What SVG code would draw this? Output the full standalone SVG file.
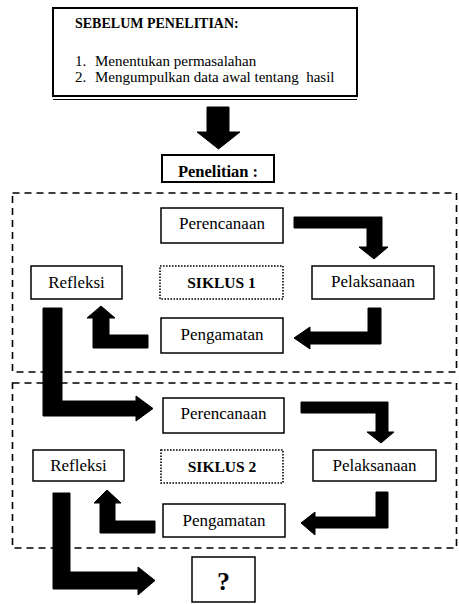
<svg xmlns="http://www.w3.org/2000/svg" width="459" height="604" viewBox="0 0 459 604">
<style>
  text { font-family: "Liberation Serif", "Times New Roman", serif; fill: #000; }
  .lbl { font-size: 17px; text-anchor: middle; }
  .bold { font-weight: bold; }
  .sik { font-size: 15.5px; }
  .pen { font-size: 16.5px; }
  .q { font-size: 26px; }
  .box { fill: #fff; stroke: #000; stroke-width: 1.5; }
  .dot { fill: #fff; stroke: #000; stroke-width: 1.6; stroke-dasharray: 1.6 1.4; }
  .dash { fill: none; stroke: #000; stroke-width: 1.6; stroke-dasharray: 7 5; }
  .arr { fill: #000; stroke: #000; stroke-width: 1; stroke-linejoin: round; }
</style>
<rect width="459" height="604" fill="#fff"/>

<g id="frames">
  <rect class="dash" x="12.5" y="193" width="444" height="179"/>
  <rect class="dash" x="12.5" y="383" width="444" height="165"/>
</g>

<g id="connectors">
  <polygon class="arr" points="207,107 229,107 229,132 240,132 218.5,149 197,132 207,132"/>
  <polygon class="arr" points="294,217 382,217 382,247 388,247 374,259 359,247 367,247 367,228 294,228"/>
  <polygon class="arr" points="368,308 381,308 381,344 310,344 310,349 294,338 310,327 310,332 368,332"/>
  <polygon class="arr" points="148,335 148,348 93,348 93,318 87,318 101,306 115,318 109,318 109,335"/>
  <polygon class="arr" points="43,308 62,308 62,401 136,401 136,396 153,408.5 136,421 136,416 43,416"/>
  <polygon class="arr" points="301,402 388,402 388,432 394,432 381,443 367,432 376,432 376,413 301,413"/>
  <polygon class="arr" points="376,492 388,492 388,528 315,528 315,535 301,523 315,512 315,517 376,517"/>
  <polygon class="arr" points="155,521 155,533 100,533 100,503 94,503 107,490 121,503 115,503 115,521"/>
  <polygon class="arr" points="53,493 70,493 70,572 138,572 138,567 155,580.5 138,595 138,589 53,589"/>
</g>

<g id="sebelum">
  <rect x="53" y="8" width="304" height="88" fill="#fff" stroke="#000" stroke-width="2"/>
  <line x1="53" y1="99.5" x2="357" y2="99.5" stroke="#000" stroke-width="1.2"/>
  <text x="75" y="28" class="bold" font-size="14">SEBELUM PENELITIAN:</text>
  <text x="75" y="66" font-size="15">1.</text>
  <text x="95" y="66" font-size="15">Menentukan permasalahan</text>
  <text x="75" y="82" font-size="15">2.</text>
  <text x="95" y="82" font-size="15" style="white-space:pre">Mengumpulkan data awal tentang  hasil</text>
</g>

<g id="penelitian">
  <rect x="162" y="155" width="112" height="27" fill="#fff" stroke="#000" stroke-width="2"/>
  <text x="218" y="176.5" class="lbl bold pen">Penelitian :</text>
</g>

<g id="perencanaan1">
  <rect class="box" x="161" y="208" width="122" height="35"/>
  <text x="222" y="229" class="lbl">Perencanaan</text>
</g>
<g id="pelaksanaan1">
  <rect class="box" x="312" y="266" width="122" height="33"/>
  <text x="373" y="287" class="lbl">Pelaksanaan</text>
</g>
<g id="siklus1">
  <rect class="dot" x="160" y="266" width="123" height="33"/>
  <text x="221.5" y="288" class="lbl bold sik">SIKLUS 1</text>
</g>
<g id="refleksi1">
  <rect class="box" x="31" y="266" width="91" height="33"/>
  <text x="76.5" y="288" class="lbl">Refleksi</text>
</g>
<g id="pengamatan1">
  <rect class="box" x="161" y="318" width="122" height="35"/>
  <text x="222" y="339.5" class="lbl">Pengamatan</text>
</g>

<g id="perencanaan2">
  <rect class="box" x="163" y="398" width="121" height="35"/>
  <text x="223.5" y="419" class="lbl">Perencanaan</text>
</g>
<g id="pelaksanaan2">
  <rect class="box" x="313" y="450" width="123" height="31"/>
  <text x="374.5" y="470.5" class="lbl">Pelaksanaan</text>
</g>
<g id="siklus2">
  <rect class="dot" x="161" y="450" width="122" height="33"/>
  <text x="222" y="471.5" class="lbl bold sik">SIKLUS 2</text>
</g>
<g id="refleksi2">
  <rect class="box" x="33" y="450" width="91" height="31"/>
  <text x="78.5" y="470.5" class="lbl">Refleksi</text>
</g>
<g id="pengamatan2">
  <rect class="box" x="163" y="504" width="122" height="33"/>
  <text x="224" y="525.5" class="lbl">Pengamatan</text>
</g>

<g id="hasil">
  <rect class="box" x="192" y="557" width="63" height="45"/>
  <text x="223.5" y="590" class="lbl bold q">?</text>
</g>
</svg>
